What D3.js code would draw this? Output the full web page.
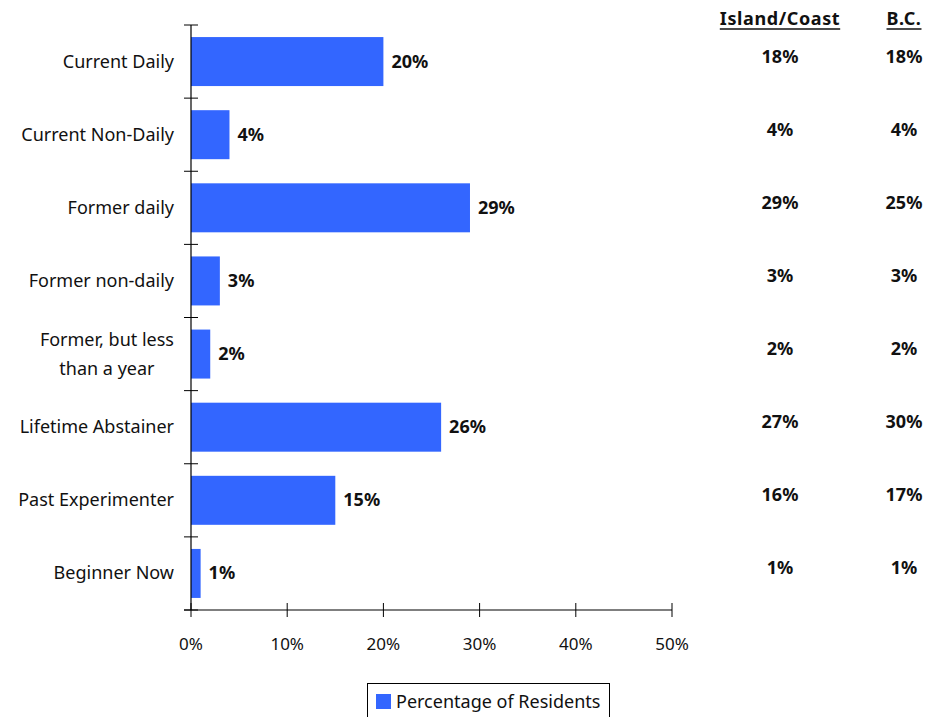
<!DOCTYPE html>
<html><head><meta charset="utf-8">
<script src="https://cdn.jsdelivr.net/npm/d3@7"></script>
<style>body{margin:0;background:#fff}svg{display:block}text{font-family:"Noto Sans",sans-serif;fill:#111}</style>
</head><body><svg id="c" width="928" height="717"></svg>
<script>
const categories = ["Current Daily","Current Non-Daily","Former daily","Former non-daily","Former, but less|than a year","Lifetime Abstainer","Past Experimenter","Beginner Now"];
const residents = [20,4,29,3,2,26,15,1];
const islandCoast = [18,4,29,3,2,27,16,1];
const bc = [18,4,25,3,2,30,17,1];
const xTicks = [0,10,20,30,40,50];
const columnHeaders = ["Island/Coast","B.C."];
const seriesName = "Percentage of Residents";

const svg = d3.select("#c");
const x = d3.scaleLinear().domain([0,50]).range([191,672]);
const y = d3.scaleBand().domain(categories).range([25,610]).paddingInner(0.33).paddingOuter(0.165);
const blue = "#3366FF";

// bars
svg.append("g").selectAll("rect").data(categories).join("rect")
  .attr("x", x(0)).attr("y", d=>y(d)).attr("width",(d,i)=>x(residents[i])-x(0))
  .attr("height", y.bandwidth()).attr("fill", blue);

// value labels
svg.append("g").selectAll("text").data(categories).join("text")
  .attr("x",(d,i)=>x(residents[i])+8).attr("y",d=>y(d)+y.bandwidth()/2+6)
  .style("font-weight","bold").style("font-size","18px")
  .text((d,i)=>residents[i]+"%");

// y axis line + ticks at band boundaries
const yAxis = svg.append("g");
yAxis.append("line").attr("x1",191).attr("x2",191).attr("y1",25).attr("y2",610).attr("stroke","#000").attr("stroke-width",1.2);
const bounds = d3.range(categories.length+1).map(i=>25+i*(585/categories.length));
yAxis.selectAll("line.t").data(bounds).join("line").attr("class","t")
  .attr("x1",184).attr("x2",198).attr("y1",d=>d).attr("y2",d=>d).attr("stroke","#000").attr("stroke-width",1);

// category labels (right aligned at 174; multi-line block centred on its widest line)
categories.forEach((c,i)=>{
  const parts=c.split("|");
  const cy=y(c)+y.bandwidth()/2;
  const t=svg.append("text").style("font-size","18px");
  const spans=parts.map((p,j)=>t.append("tspan").attr("x",0).attr("y",cy+6+(j-(parts.length-1)/2)*29).text(p));
  if(parts.length===1){
    t.attr("text-anchor","end"); spans[0].attr("x",174);
  } else {
    const w=d3.max(spans,s=>s.node().getComputedTextLength());
    t.attr("text-anchor","middle"); spans.forEach(s=>s.attr("x",174-w/2));
  }
});

// x axis
const xa = svg.append("g");
xa.append("line").attr("x1",184).attr("x2",672).attr("y1",610).attr("y2",610).attr("stroke","#000").attr("stroke-width",1.2);
xa.selectAll("line.t").data(xTicks).join("line").attr("class","t")
  .attr("x1",d=>x(d)).attr("x2",d=>x(d)).attr("y1",603).attr("y2",617).attr("stroke","#000");
xa.selectAll("text").data(xTicks).join("text").attr("text-anchor","middle")
  .attr("x",d=>x(d)).attr("y",650).style("font-size","17px").text(d=>d+"%");

// right columns
const colX=[780,904];
[islandCoast,bc].forEach((arr,k)=>{
  const h=svg.append("text").attr("x",colX[k]).attr("y",25).attr("text-anchor","middle")
    .style("font-weight","bold").style("font-size","18px").style("letter-spacing","0.6px").text(columnHeaders[k]);
  const bb=h.node().getBBox();
  svg.append("line").attr("x1",bb.x).attr("x2",bb.x+bb.width).attr("y1",29).attr("y2",29).attr("stroke","#111").attr("stroke-width",1.3);
  svg.append("g").selectAll("text").data(categories).join("text")
    .attr("x",colX[k]).attr("y",d=>y(d)+y.bandwidth()/2+1).attr("text-anchor","middle")
    .style("font-weight","bold").style("font-size","18px").text((d,i)=>arr[i]+"%");
});

// legend
svg.append("rect").attr("x",367.5).attr("y",683.5).attr("width",242).attr("height",40).attr("fill","none").attr("stroke","#000");
svg.append("rect").attr("x",376).attr("y",694).attr("width",15).attr("height",15).attr("fill",blue);
svg.append("text").attr("x",396).attr("y",708).style("font-size","18px").text(seriesName);
</script></body></html>
